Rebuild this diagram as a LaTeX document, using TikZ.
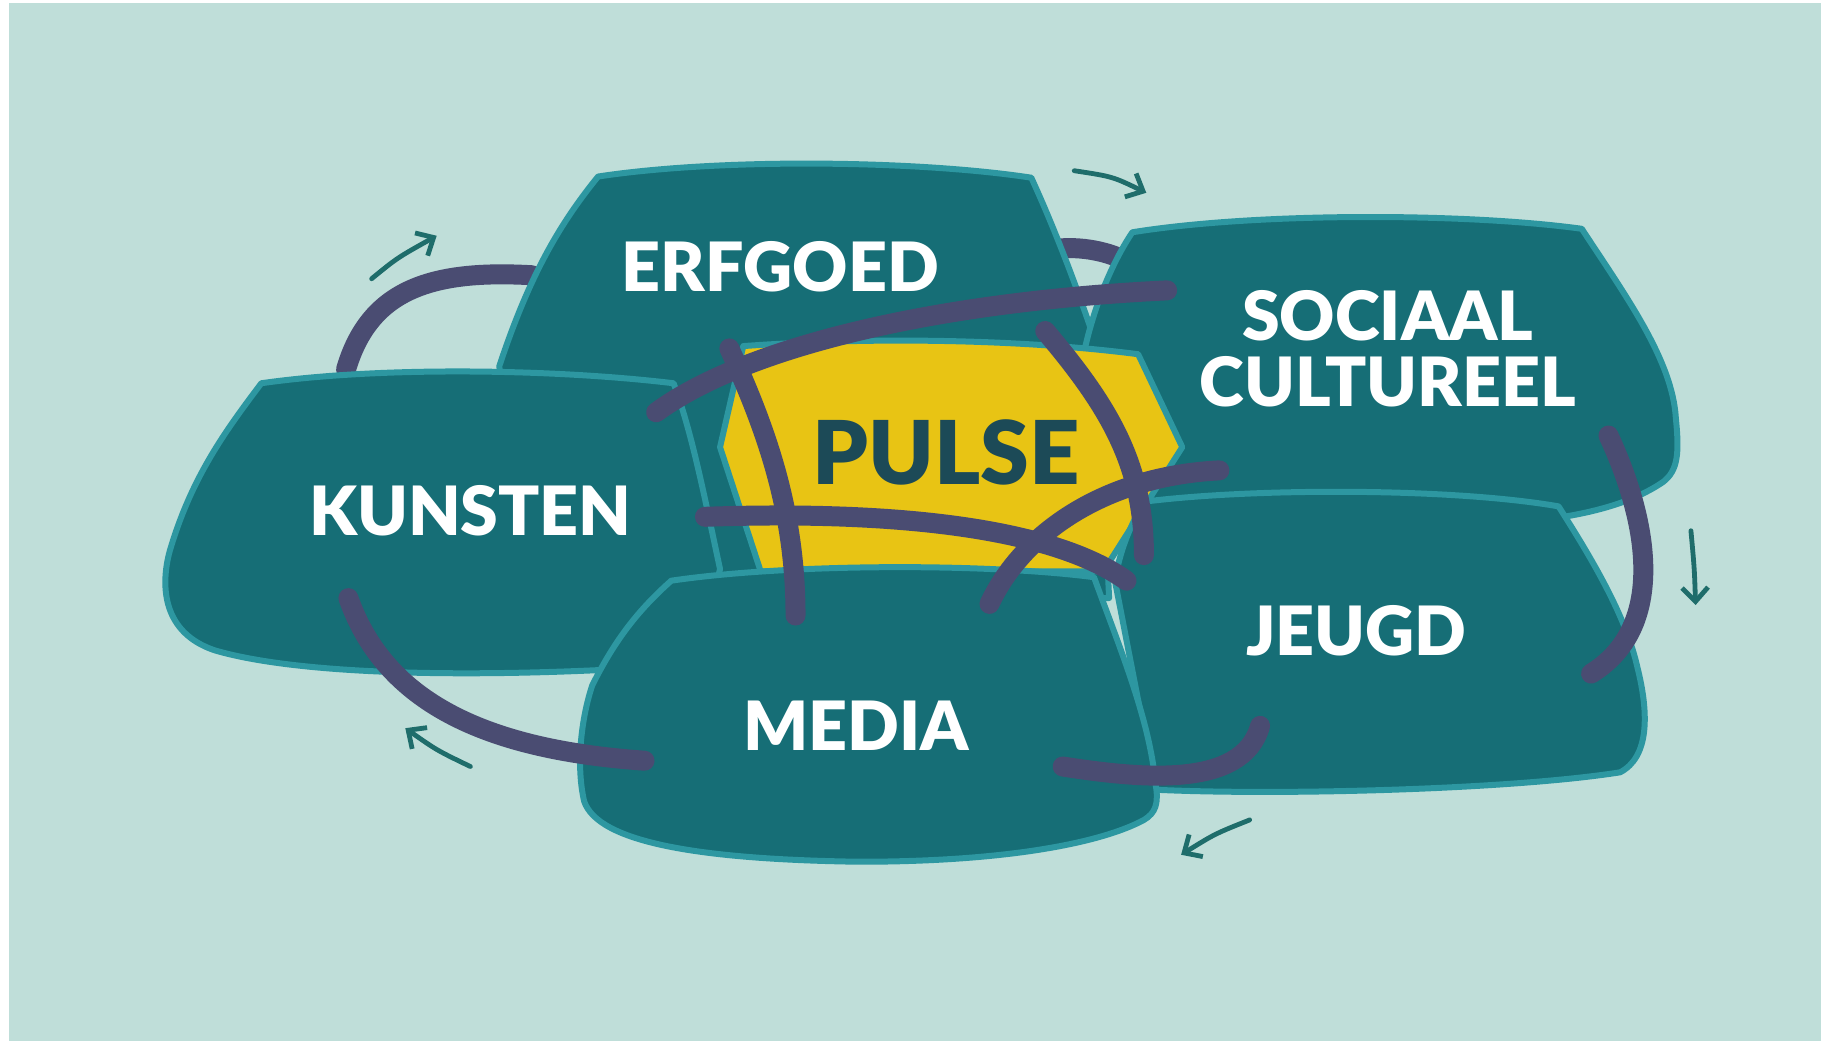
\documentclass[tikz,border=0pt]{standalone}
\usepackage{fontspec}
\setmainfont{Lato}[BoldFont={Lato Black}]
\usetikzlibrary{arrows.meta}
\definecolor{bg}{HTML}{BFDED9}
\definecolor{blob}{HTML}{166E76}
\definecolor{rim}{HTML}{2D97A1}
\definecolor{yel}{HTML}{E8C414}
\definecolor{band}{HTML}{4A4C72}
\definecolor{arr}{HTML}{1F6D6B}
\definecolor{ptxt}{HTML}{1C4A57}
\begin{document}
\begin{tikzpicture}[x=0.5807pt,y=-0.5807pt,
  blobshape/.style={fill=blob,draw=rim,line width=3pt,line join=round},
  bandline/.style={draw=band,line width=10pt,line cap=round},
  flowarrow/.style={draw=arr,line width=2.4pt,line cap=round,-{Straight Barb[length=7pt,width=13pt,line width=2.4pt]}},
  lbl/.style={text=white,font=\fontsize{34}{38}\selectfont\bfseries,align=center,inner sep=0pt}]
\useasboundingbox (0,0) rectangle (1568,896);
\fill[bg] (0,0) rectangle (1568,896);
\fill[white] (0,0) rectangle (8,896);
\fill[white] (0,0) rectangle (1568,3);

% endpoints of bands
\coordinate (b1s) at (298,318); \coordinate (b1e) at (458,237);
\coordinate (b2s) at (912,214); \coordinate (b2e) at (975,228);
\coordinate (b3s) at (565,355); \coordinate (b3e) at (1005,250);
\coordinate (b4s) at (628,300); \coordinate (b4e) at (685,530);
\coordinate (b5s) at (900,285); \coordinate (b5e) at (985,478);
\coordinate (b6s) at (607,445); \coordinate (b6e) at (970,500);
\coordinate (b7s) at (1050,405); \coordinate (b7e) at (852,520);
\coordinate (b8s) at (300,515); \coordinate (b8e) at (555,655);
\coordinate (b9s) at (1085,625); \coordinate (b9e) at (915,660);
\coordinate (b10s) at (1385,375); \coordinate (b10e) at (1370,580);

% back bands
\draw[bandline] (b1s) .. controls (318,250) and (370,232) .. (b1e);
\draw[bandline] (b2s) .. controls (935,212) and (960,218) .. (b2e);

% ERFGOED
\draw[blobshape] (515,152) .. controls (620,136) and (790,138) .. (888,153)
  .. controls (905,190) and (925,240) .. (945,300) -- (955,515) -- (440,515) -- (430,315)
  .. controls (455,240) and (480,195) .. cycle;
% SOCIAAL CULTUREEL
\draw[blobshape] (975,200) .. controls (1080,183) and (1260,183) .. (1362,197)
  .. controls (1400,255) and (1440,310) .. (1443,360)
  .. controls (1446,390) and (1445,405) .. (1432,415)
  .. controls (1410,430) and (1380,440) .. (1340,446) -- (960,450) -- (932,310)
  .. controls (940,270) and (955,230) .. cycle;
% PULSE
\draw[fill=yel,draw=rim,line width=3pt,line join=round]
  (640,298) .. controls (750,290) and (880,292) .. (980,305) -- (1018,385)
  -- (950,492) -- (655,492) -- (620,385) -- cycle;
% KUNSTEN
\draw[blobshape] (225,330) .. controls (330,315) and (480,318) .. (580,330)
  .. controls (595,370) and (605,420) .. (620,490) -- (600,572)
  .. controls (420,585) and (260,582) .. (185,560)
  .. controls (140,545) and (138,505) .. (146,475)
  .. controls (165,410) and (195,370) .. cycle;
% JEUGD
\draw[blobshape] (985,432) .. controls (1080,420) and (1250,420) .. (1342,436)
  .. controls (1370,480) and (1400,530) .. (1410,575)
  .. controls (1420,615) and (1420,652) .. (1395,665)
  .. controls (1300,680) and (1100,685) .. (995,680) -- (960,500)
  .. controls (965,470) and (975,450) .. cycle;
% MEDIA
\draw[blobshape] (578,500) .. controls (680,485) and (850,485) .. (942,497)
  .. controls (965,560) and (990,620) .. (995,675)
  .. controls (998,692) and (995,700) .. (985,706)
  .. controls (950,725) and (870,742) .. (740,742)
  .. controls (600,740) and (515,725) .. (503,690)
  .. controls (496,660) and (500,620) .. (510,590)
  .. controls (530,550) and (550,525) .. cycle;

% front bands
\draw[bandline] (b4s) .. controls (660,370) and (685,440) .. (b4e);
\draw[bandline] (b5s) .. controls (955,350) and (985,400) .. (b5e);
\draw[bandline] (b7s) .. controls (950,410) and (880,460) .. (b7e);
\draw[bandline] (b6s) .. controls (750,440) and (900,450) .. (b6e);
\draw[bandline] (b3s) .. controls (640,300) and (800,260) .. (b3e);
\draw[bandline] (b8s) .. controls (330,600) and (410,645) .. (b8e);
\draw[bandline] (b9s) .. controls (1070,680) and (980,670) .. (b9e);
\draw[bandline] (b10s) .. controls (1420,450) and (1435,540) .. (b10e);

% cycle arrows
\coordinate (a1s) at (320,240); \coordinate (a1e) at (376,203);
\coordinate (a2s) at (925,147); \coordinate (a2e) at (987,166);
\coordinate (a3s) at (1456,457); \coordinate (a3e) at (1460,521);
\coordinate (a4s) at (1076,706); \coordinate (a4e) at (1017,736);
\coordinate (a5s) at (405,660); \coordinate (a5e) at (349,627);
\draw[flowarrow] (a1s) .. controls (342,222) .. (a1e);
\draw[flowarrow] (a2s) .. controls (958,152) .. (a2e);
\draw[flowarrow] (a3s) .. controls (1459,490) .. (a3e);
\draw[flowarrow] (a4s) .. controls (1046,718) .. (a4e);
\draw[flowarrow] (a5s) .. controls (376,646) .. (a5e);

% labels
\node[lbl] (erf) at (672,230) {ERFGOED};
\node[lbl] (soc) at (1195,300) {SOCIAAL\\[-5pt]CULTUREEL};
\node[lbl] (kun) at (405,440) {KUNSTEN};
\node[lbl] (med) at (737,625) {MEDIA};
\node[lbl] (jeu) at (1168,543) {JEUGD};
\node[text=ptxt,font=\fontsize{44}{48}\selectfont\bfseries,inner sep=0pt] (pul) at (815,390) {PULSE};
\end{tikzpicture}
\end{document}
